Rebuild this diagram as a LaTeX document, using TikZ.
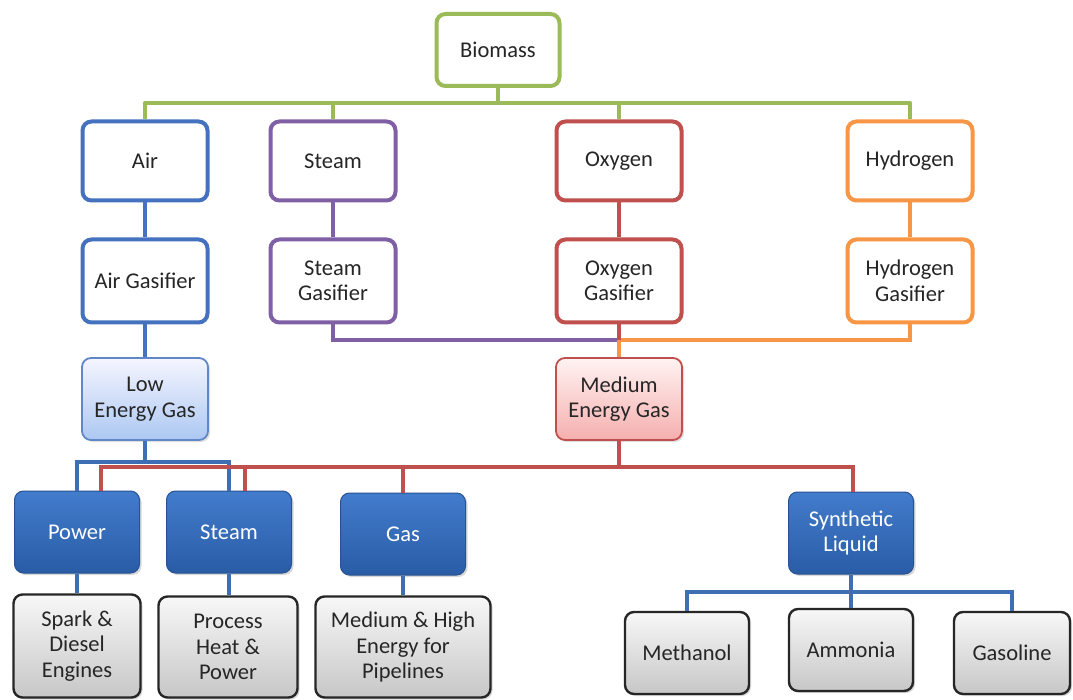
\documentclass[tikz,border=0pt]{standalone}
\usepackage{fontspec}
\setmainfont{Carlito}
\usetikzlibrary{shadows}
\definecolor{cgreen}{RGB}{155,187,89}
\definecolor{cblue}{RGB}{68,114,190}
\definecolor{cpurple}{RGB}{128,96,165}
\definecolor{cred}{RGB}{192,80,77}
\definecolor{corange}{RGB}{247,150,70}
\definecolor{lineblue}{RGB}{62,110,180}
\definecolor{txt}{RGB}{38,38,38}
\definecolor{bbtop}{RGB}{66,124,204}
\definecolor{bbbot}{RGB}{42,92,166}
\definecolor{bbdraw}{RGB}{40,82,146}
\tikzset{
  lbl/.style={font=\fontsize{22.5}{25.5}\selectfont, align=center, text=txt},
  top/.style={lbl, rounded corners=9pt, line width=4pt, fill=white, minimum width=125pt, minimum height=79pt, inner sep=2pt},
  gbox/.style={top, minimum height=83pt},
  conn/.style={line width=4.5pt},
  lowbox/.style={lbl, rounded corners=9pt, line width=1.8pt, draw=cblue!85, top color=blue!4!white, bottom color={rgb,255:red,172;green,200;blue,242}, minimum width=126pt, minimum height=82pt, drop shadow={opacity=0.25, shadow xshift=2pt, shadow yshift=-2pt}},
  medbox/.style={lbl, rounded corners=9pt, line width=1.8pt, draw=cred, top color=red!5!white, bottom color={rgb,255:red,245;green,175;blue,174}, minimum width=126pt, minimum height=82pt, drop shadow={opacity=0.25, shadow xshift=2pt, shadow yshift=-2pt}},
  usebox/.style={lbl, text=white, rounded corners=9pt, line width=1pt, draw=bbdraw, top color=bbtop, bottom color=bbbot, minimum width=125pt, minimum height=82pt, drop shadow={opacity=0.3, shadow xshift=2pt, shadow yshift=-2pt}},
  prodbox/.style={lbl, rounded corners=9pt, line width=2.4pt, draw=black!85, top color=black!3, bottom color=black!22, minimum height=82pt, drop shadow={opacity=0.3, shadow xshift=2pt, shadow yshift=-2pt}},
}
\begin{document}
\begin{tikzpicture}[x=1pt,y=-1pt]
\useasboundingbox[fill=white] (0,0) rectangle (1073,700);
% level 1
\node[top, draw=cgreen, minimum width=123pt, minimum height=72pt] (bio) at (498,50) {Biomass};
% level 2
\node[top, draw=cblue] (air) at (145,161) {Air};
\node[top, draw=cpurple] (stm) at (333,161) {Steam};
\node[top, draw=cred] (oxy) at (619,161) {Oxygen};
\node[top, draw=corange] (hyd) at (910,161) {Hydrogen};
% level 3
\node[gbox, draw=cblue] (airg) at (145,281) {Air Gasifier};
\node[gbox, draw=cpurple] (stmg) at (333,281) {Steam\\Gasifier};
\node[gbox, draw=cred] (oxyg) at (619,281) {Oxygen\\Gasifier};
\node[gbox, draw=corange] (hydg) at (910,281) {Hydrogen\\Gasifier};
% level 4
\node[lowbox] (low) at (145,399) {Low\\Energy Gas};
\node[medbox] (med) at (619,399) {Medium\\Energy Gas};
% level 5
\node[usebox] (pow) at (77,532) {Power};
\node[usebox] (stu) at (229,532) {Steam};
\node[usebox] (gas) at (403,534) {Gas};
\node[usebox] (syn) at (851,533) {Synthetic\\Liquid};
% level 6
\node[prodbox, minimum width=127pt, minimum height=103pt] (spark) at (77,646) {Spark \&\\Diesel\\Engines};
\node[prodbox, minimum width=139pt, minimum height=101pt] (proc) at (228,647) {Process\\Heat \&\\Power};
\node[prodbox, minimum width=175pt, minimum height=101pt] (pipe) at (403,647) {Medium \& High\\Energy for\\Pipelines};
\node[prodbox, minimum width=124pt] (meth) at (687,653) {Methanol};
\node[prodbox, minimum width=124pt] (amm) at (851,650) {Ammonia};
\node[prodbox, minimum width=116pt] (gsl) at (1012,653) {Gasoline};
% coordinates
\coordinate (gbus) at (498,103);
\coordinate (mbus) at (619,340);
\coordinate (bbus) at (145,462);
\coordinate (rbus) at (619,467);
\coordinate (sbus) at (851,592);
% connectors
\draw[conn, cgreen] (bio.south) -- (gbus);
\draw[conn, cgreen, line join=round] (air.north) |- (gbus) -| (hyd.north);
\draw[conn, cgreen] (stm.north) -- (stm.north |- gbus);
\draw[conn, cgreen] (oxy.north) -- (oxy.north |- gbus);
\draw[conn, cblue] (air) -- (airg);
\draw[conn, cpurple] (stm) -- (stmg);
\draw[conn, cred] (oxy) -- (oxyg);
\draw[conn, corange] (hyd) -- (hydg);
\draw[conn, cblue] (airg) -- (low);
\draw[conn, cpurple] (stmg.south) |- (mbus);
\draw[conn, corange] (hydg.south) |- (mbus);
\draw[conn, cred] (oxyg.south) -- (mbus);
\draw[conn, corange] (mbus) -- (med.north);
% blue bus
\draw[conn, lineblue] (low.south) -- (bbus);
\draw[conn, lineblue] (pow.north) |- (bbus) -| (stu.north);
% red bus
\draw[conn, cred] (med.south) -- (rbus);
\draw[conn, cred] ([xshift=24pt]pow.north) |- (rbus) -| ([xshift=2pt]syn.north);
\draw[conn, cred] ([xshift=16pt]stu.north) -- ([xshift=16pt]stu.north |- rbus);
\draw[conn, cred] (gas.north) -- (gas.north |- rbus);
% lower
\draw[conn, lineblue] (pow) -- (spark);
\draw[conn, lineblue] (stu.south) -- (stu.south |- proc.north);
\draw[conn, lineblue] (gas) -- (pipe);
\draw[conn, lineblue] (syn.south) -- (sbus);
\draw[conn, lineblue] (meth.north) |- (sbus) -| (gsl.north);
\draw[conn, lineblue] (amm.north) -- (sbus);
\end{tikzpicture}
\end{document}
